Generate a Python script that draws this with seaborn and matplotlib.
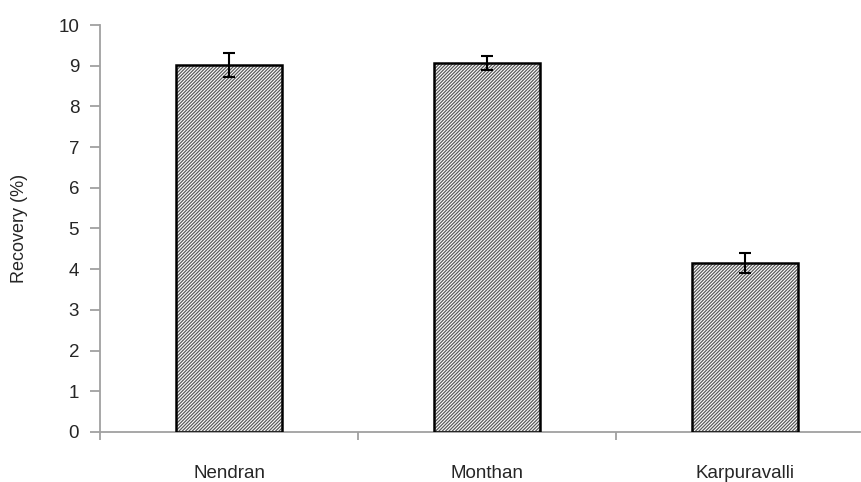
import matplotlib
matplotlib.use("Agg")
import matplotlib.pyplot as plt
import matplotlib.patches as mpatches
import seaborn as sns
import pandas as pd

cultivars = ["Nendran", "Monthan", "Karpuravalli"]
recovery = [9.02, 9.07, 4.15]
recovery_err = [0.29, 0.17, 0.24]

sns.set_style("white")
plt.rcParams["font.family"] = ["Liberation Sans", "DejaVu Sans"]
plt.rcParams["hatch.linewidth"] = 0.9

df = pd.DataFrame({"cultivar": cultivars, "recovery": recovery})

fig = plt.figure(figsize=(8.62, 4.82), dpi=100)
ax = fig.add_axes([0.116, 0.104, 0.882, 0.844])

sns.barplot(data=df, x="cultivar", y="recovery", color="white", width=0.41,
            errorbar=None, edgecolor="#5a5a5a", linewidth=0, hatch="//////////", ax=ax)

# black outline on top of the grey hatching
for p in list(ax.patches):
    ax.add_patch(mpatches.Rectangle((p.get_x(), p.get_y()), p.get_width(), p.get_height(),
                                    fill=False, edgecolor="black", linewidth=1.8, zorder=3))

ax.errorbar(range(len(cultivars)), recovery, yerr=recovery_err, fmt="none",
            ecolor="black", elinewidth=1.5, capsize=4.5, capthick=1.5, zorder=4)

ax.set_ylim(0, 10)
ax.set_xlim(-0.5, 2.446)
ax.set_yticks(range(0, 11))
ax.set_ylabel("Recovery (%)", fontsize=13, labelpad=22)
ax.set_xlabel("")

# category labels centred under bars, ticks at category boundaries
ax.set_xticks([0, 1, 2])
ax.set_xticklabels(cultivars, fontsize=13.5)
ax.tick_params(axis="x", which="major", bottom=True, length=0, pad=24)
ax.set_xticks([-0.5, 0.5, 1.5], minor=True)
ax.tick_params(axis="x", which="minor", bottom=True, length=6, color="#a0a0a0",
               width=1.3, direction="out")
ax.tick_params(axis="y", left=True, length=7, color="#a0a0a0", width=1.3,
               direction="out", labelsize=13.5, pad=8)

for side in ["top", "right"]:
    ax.spines[side].set_visible(False)
for side in ["left", "bottom"]:
    ax.spines[side].set_color("#a0a0a0")
    ax.spines[side].set_linewidth(1.3)

fig.savefig("out.png", dpi=100)
